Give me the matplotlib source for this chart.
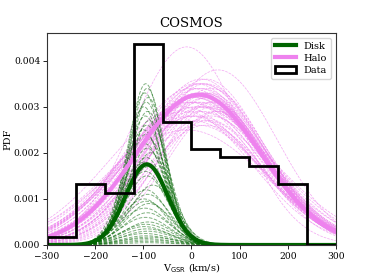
import numpy as np
import matplotlib
matplotlib.use('Agg')
import matplotlib.pyplot as plt

plt.rcParams['font.family'] = 'DejaVu Serif'
plt.rcParams['mathtext.fontset'] = 'dejavusans'

# observed velocity histogram (density)
edges = [-300, -240, -180, -120, -60, 0, 60, 120, 180, 240, 300]
density = [0.00018, 0.00133, 0.00113, 0.00437, 0.00266, 0.00209, 0.00191,
           0.00172, 0.00133, 0.0]

# best-fit components: (centre, sigma, peak)
disk_best = (-93, 44, 0.00175)
halo_best = (15, 130, 0.00326)

# individual draws, disk
disk_mu = [-95, -92, -97, -90, -94, -99, -91, -96, -88, -93, -100, -95,
           -89, -97, -92, -85, -94, -98, -90, -96, -93, -80, -95, -91, -99,
           -94, -88, -97, -92, -96, -90, -95, -98, -93, -91, -97, -94, -89,
           -96, -92, -95, -93]
disk_sig = [36, 37, 38, 37, 39, 38, 40, 39, 41, 40, 42, 41, 42, 43, 42,
            44, 43, 45, 44, 46, 45, 47, 46, 48, 47, 49, 48, 50, 49, 51, 50,
            52, 51, 53, 52, 54, 53, 55, 54, 56, 55, 57]
disk_pk = [0.0035, 0.0034, 0.0033, 0.0032, 0.0031, 0.0030, 0.0029, 0.0028,
           0.0027, 0.0026, 0.0025, 0.0024, 0.0023, 0.0022, 0.0021, 0.0020,
           0.0019, 0.0018, 0.0017, 0.0016, 0.0015, 0.0013, 0.0012, 0.0011,
           0.0010, 0.00095, 0.0009, 0.0008, 0.0007, 0.0006, 0.0005, 0.00045,
           0.0004, 0.00035, 0.0003, 0.00025, 0.0002, 0.00017, 0.00014,
           0.00011, 0.00008, 0.00005]

# individual draws, halo
halo_mu = [-10, 55, 20, 10, 30, 0, 40, 15, 25, 5, 35, 10, 20, -5, 45, 30,
           15, -15, 50, 25, 5, 10, 40, 20, 0, 35, 15, 30, -10, 25, 10, 45,
           20, -20, 55, 15, 30, 5, 20, 10, 40, 25, -5, 35, 15, 0, 30, 20,
           10, 25]
halo_sig = [112, 122, 125, 130, 120, 135, 118, 128, 132, 140, 120, 145, 126,
            138, 115, 130, 150, 140, 112, 124, 136, 155, 122, 130, 148, 116,
            134, 128, 160, 126, 138, 112, 132, 152, 110, 140, 120, 144, 130,
            165, 118, 136, 146, 122, 128, 142, 124, 134, 158, 120]
halo_pk = [0.0043, 0.0038, 0.0036, 0.0035, 0.0035, 0.0034, 0.0034, 0.0033,
           0.0033, 0.0032, 0.0032, 0.0031, 0.0031, 0.0031, 0.0030, 0.0030,
           0.0030, 0.0029, 0.0029, 0.0029, 0.0028, 0.0028, 0.0028, 0.0027,
           0.0027, 0.0027, 0.0026, 0.0026, 0.0025, 0.0033, 0.0032, 0.0031,
           0.0034, 0.0030, 0.0029, 0.0033, 0.0036, 0.0032, 0.0035, 0.0029,
           0.0031, 0.0030, 0.0028, 0.0033, 0.0034, 0.0031, 0.0032, 0.0035,
           0.0030, 0.0033]


def gauss(x, mu, sig, pk):
    return pk * np.exp(-0.5 * ((x - mu) / sig) ** 2)


v = np.linspace(-300, 300, 601)

fig = plt.figure(figsize=(3.74, 2.8), dpi=100)
ax = fig.add_axes([0.126, 0.125, 0.772, 0.757])

for mu, sg, pk in zip(halo_mu, halo_sig, halo_pk):
    ax.plot(v, gauss(v, mu, sg, pk), c='violet', ls='--', lw=0.5, alpha=0.7)
for mu, sg, pk in zip(disk_mu, disk_sig, disk_pk):
    ax.plot(v, gauss(v, mu, sg, pk), c='darkgreen', ls='--', lw=0.7, alpha=0.5)

ax.plot(v, gauss(v, *disk_best), c='darkgreen', lw=3, label='Disk')
ax.plot(v, gauss(v, *halo_best), c='violet', lw=3, label='Halo')
ax.hist(edges[:-1], bins=edges, weights=density, histtype='step',
        color='k', lw=2, label='Data')

ax.set_xlim(-300, 300)
ax.set_ylim(0, 0.0046)
ax.set_xticks([-300, -200, -100, 0, 100, 200, 300])
ax.set_yticks([0, 0.001, 0.002, 0.003, 0.004])
ax.set_yticklabels(['0.000', '0.001', '0.002', '0.003', '0.004'])
ax.tick_params(labelsize=6.6, length=3, width=0.6, pad=2)
for s in ax.spines.values():
    s.set_linewidth(0.8)
    s.set_color('#333333')
ax.set_title('COSMOS', fontsize=9.5, pad=4)
ax.set_xlabel(r'V$_{\mathrm{GSR}}$ (km/s)', fontsize=7, labelpad=0)
ax.set_ylabel('PDF', fontsize=7)
ax.yaxis.set_label_coords(-0.12, 0.5)
ax.legend(loc='upper right', fontsize=7, handlelength=2.2, borderpad=0.4,
          labelspacing=0.3)

fig.savefig('out.png', dpi=100)
